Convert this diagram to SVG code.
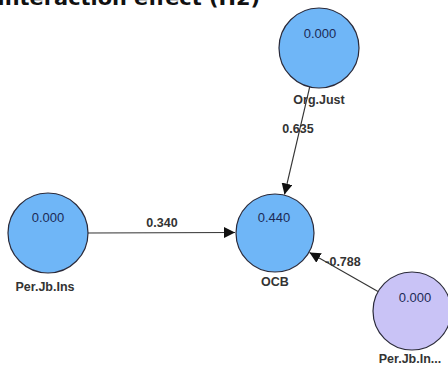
<svg xmlns="http://www.w3.org/2000/svg" width="448" height="367" viewBox="0 0 448 367">
<defs>
<style>
.node{stroke:#2a2a3a;stroke-width:1.2}
.blue{fill:#6fb6f7}
.lav{fill:#c9c3f6}
.val{font-family:"Liberation Sans",Arial,sans-serif;font-size:13px;fill:#1c2a55;text-anchor:middle}
.lbl{font-family:"Liberation Sans",Arial,sans-serif;font-size:12.5px;font-weight:bold;fill:#333;text-anchor:middle}
.edge{stroke:#333;stroke-width:1.1;fill:none;marker-end:url(#arr)}
.elbl{font-family:"Liberation Sans",Arial,sans-serif;font-size:12.5px;font-weight:bold;fill:#333;text-anchor:middle}
</style>
<marker id="arr" viewBox="0 0 10 10" refX="10" refY="5" markerWidth="11" markerHeight="11" markerUnits="userSpaceOnUse" orient="auto">
<path d="M0,0 L10,5 L0,10 z" fill="#111"/>
</marker>
</defs>
<rect width="448" height="367" fill="#fff"/>
<text x="-3" y="5" font-family="'DejaVu Sans',Verdana,sans-serif" font-size="20" font-weight="bold" fill="#111" textLength="263" lengthAdjust="spacingAndGlyphs">Interaction effect (H2)</text>
<g id="connectors">
<line class="edge" x1="88" y1="233" x2="235" y2="232.5"/>
<line class="edge" x1="309.7" y1="87" x2="284.5" y2="194.5"/>
<line class="edge" x1="378" y1="291.5" x2="309.5" y2="252.5"/>
<text class="elbl" x="162" y="227">0.340</text>
<text class="elbl" x="298" y="133">0.635</text>
<text class="elbl" x="343" y="266">-0.788</text>
</g>
<g id="org-just">
<circle class="node blue" cx="319" cy="48" r="40"/>
<text class="val" x="320" y="38">0.000</text>
<text class="lbl" x="319" y="104">Org.Just</text>
</g>
<g id="per-jb-ins">
<circle class="node blue" cx="48" cy="233" r="40"/>
<text class="val" x="48" y="222">0.000</text>
<text class="lbl" x="45" y="291">Per.Jb.Ins</text>
</g>
<g id="ocb">
<circle class="node blue" cx="275" cy="233" r="39"/>
<text class="val" x="274" y="222">0.440</text>
<text class="lbl" x="275" y="286">OCB</text>
</g>
<g id="per-jb-in">
<circle class="node lav" cx="412" cy="311" r="39"/>
<text class="val" x="415" y="302">0.000</text>
<text class="lbl" x="410" y="363">Per.Jb.In...</text>
</g>
</svg>
